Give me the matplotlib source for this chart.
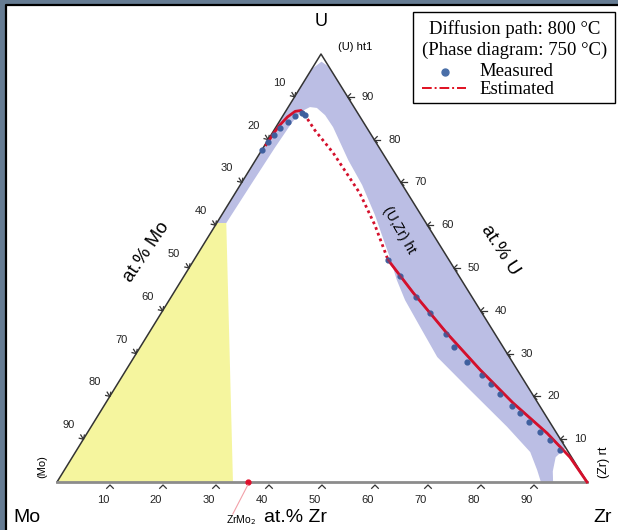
import numpy as np
import matplotlib.pyplot as plt
from matplotlib.patches import Polygon, Rectangle

plt.rcParams['font.family'] = ['Liberation Sans', 'DejaVu Sans']

# corners of the (slightly squashed) ternary triangle, in pixels
MO_XY = (57, 482)
ZR_XY = (587, 482)
U_XY = (321, 54)


def tern(zr, u):
    zr = np.asarray(zr, float) / 100
    u = np.asarray(u, float) / 100
    x = MO_XY[0] + (ZR_XY[0] - MO_XY[0]) * zr + (U_XY[0] - MO_XY[0]) * u
    y = MO_XY[1] + (U_XY[1] - MO_XY[1]) * u
    return x, y


# measured compositions (at.% Zr, at.% U)
meas_zr_low = [36.6, 40.8, 46.2, 50.7, 56.2, 59.2, 63.4, 67.7, 70.5, 73.3, 77.0, 79.3, 82.1, 85.3, 88.1, 91.2]
meas_u_low = [51.9, 48.1, 43.2, 39.5, 34.6, 31.5, 28.0, 25.0, 22.9, 20.6, 17.8, 16.1, 14.0, 11.7, 9.8, 7.5]
meas_zr_up = [0.0, 0.3, 0.6, 1.0, 1.6, 2.4, 3.3, 4.0]
meas_u_up = [77.5, 79.5, 81.0, 82.6, 84.2, 85.5, 86.1, 85.8]

# estimated diffusion path
est_zr_up = [0.2, 0.3, 0.5, 1.0, 1.8, 2.8, 3.8]
est_u_up = [78.8, 81.5, 83.4, 85.3, 86.6, 86.8, 86.0]
est_zr_mid = [3.8, 7.7, 13.8, 23.5, 30.1, 36.6]
est_u_mid = [86.0, 82.2, 76.9, 67.5, 60.0, 51.9]
est_zr_low = [36.6, 45.2, 56.2, 66.8, 76.8, 86.8, 93.9, 100]
est_u_low = [51.9, 44.2, 34.8, 26.2, 18.5, 11.4, 5.8, 0]

# phase fields: (U,Zr) ht band and the yellow (Mo) + ZrMo2 field
band_zr = [0, 0, 1.0, 2.5, 3.5, 92, 91.2, 92.3, 93.6, 91.3, 89.2, 85.8, 78.5, 66.3, 57.2, 50.5, 44.5,
           40.6, 36.8, 33.5, 28.9, 23.0, 17.5, 10.8, 7.9, 5.5, 4.1, 3.0, 2.5, 2.2, 2.0, 1.8]
band_u = [60.5, 96.5, 98.2, 97.3, 96.5, 8, 5.8, 2.5, 0, 0, 2.8, 7.0, 12.9, 22.2, 29.2, 36.2, 42.5,
          47.2, 52.3, 56.5, 62.4, 69.4, 75.2, 82.9, 85.7, 87.4, 87.6, 86.6, 84, 78, 70, 60.5]
yellow_zr = [0, 0, 1.8, 33.2]
yellow_u = [0, 60.5, 60.5, 0]
zrmo2_zr, zrmo2_u = 36.0, 0.0

ticks = [10, 20, 30, 40, 50, 60, 70, 80, 90]

fig = plt.figure(figsize=(6.18, 5.30), dpi=100)
fig.patch.set_facecolor('#667c93')
ax = fig.add_axes([0, 0, 1, 1])
ax.set_xlim(0, 618)
ax.set_ylim(530, 0)
ax.axis('off')

# white panel with dark top/left edge
ax.add_patch(Rectangle((6, 5), 612, 525, fc='white', ec='none'))
ax.plot([6, 6, 618], [530, 5, 5], color='black', lw=1.6)

# phase fields
bx, by = tern(band_zr, band_u)
ax.add_patch(Polygon(np.c_[bx, by], closed=True, fc='#bbbee4', ec='none'))
yx, yy = tern(yellow_zr, yellow_u)
ax.add_patch(Polygon(np.c_[yx, yy], closed=True, fc='#f5f59e', ec='none'))

# triangle edges
ex, ey = tern([0, 0, 100], [0, 100, 0])
ax.plot([ex[0], ex[1], ex[2]], [ey[0], ey[1], ey[2]], color='#333333', lw=1.1)
ax.plot([ex[0], ex[2]], [ey[0], ey[2]], color='#8c8c8c', lw=2)


def arrow_tick(x, y, dx, dy, tail=6.0, head=3.2, off=0.0):
    # small open arrowhead pointing along (dx, dy) with its tip at (x, y)
    d = np.array([dx, dy], float)
    d /= np.hypot(*d)
    n = np.array([-d[1], d[0]])
    tip = np.array([x, y]) - d * off
    back = tip - d * head
    ax.plot([back[0] + n[0] * head, tip[0], back[0] - n[0] * head],
            [back[1] + n[1] * head, tip[1], back[1] - n[1] * head], color='#333333', lw=0.9)
    if tail > 0:
        t0 = tip - d * tail
        ax.plot([t0[0], tip[0]], [t0[1], tip[1]], color='#333333', lw=0.9)


tk = np.array(ticks)
left_dir = (ZR_XY[0] - U_XY[0], ZR_XY[1] - U_XY[1])
# bottom: at.% Zr
tx, ty = tern(tk, 0 * tk)
for v, x, y in zip(ticks, tx, ty):
    arrow_tick(x, y + 3, 0, -1, tail=0, head=3.3)
    ax.text(x - 7, y + 18, str(v), fontsize=8, color='#222222', ha='center', va='center')
# left: at.% Mo (U = 100 - Mo, Zr = 0)
lx, ly = tern(0 * tk, 100 - tk)
for v, x, y in zip(ticks, lx, ly):
    arrow_tick(x, y, *left_dir, tail=5, head=3)
    ax.text(x - 15, y - 14, str(v), fontsize=8, color='#222222', ha='center', va='center')
# right: at.% U (Mo = 0)
rx, ry = tern(100 - tk, tk)
for v, x, y in zip(ticks, rx, ry):
    arrow_tick(x, y, -1, 0, tail=6, head=3)
    ax.text(x + 20, y, str(v), fontsize=8, color='#222222', ha='center', va='center')

# diffusion path
ux, uy = tern(est_zr_up, est_u_up)
ax.plot(ux, uy, color='#d4102c', lw=2)
mx, my = tern(est_zr_mid, est_u_mid)
ax.plot(mx, my, color='#d4102c', lw=2, ls=(0, (1, 1.2)))
lx2, ly2 = tern(est_zr_low, est_u_low)
ax.plot(lx2, ly2, color='#d4102c', lw=2)
px, py = tern(meas_zr_low + meas_zr_up, meas_u_low + meas_u_up)
ax.scatter(px, py, s=12, color='#3e5f9e', zorder=3)
ax.plot(lx2, ly2, color='#d4102c', lw=1.6, alpha=0.6, zorder=4)

# ZrMo2 point
zx, zy = tern(zrmo2_zr, zrmo2_u)
ax.plot(zx, zy, 'o', color='#e0102c', ms=3.5)
ax.plot([zx, zx - 15], [zy + 3, zy + 32], color='#f2a0a8', lw=0.8)
ax.text(zx - 7, zy + 38, 'ZrMo$_2$', fontsize=7.5, ha='center', va='center')

# labels
ax.text(U_XY[0], 22, 'U', fontsize=13, ha='center', va='center')
ax.text(338, 47, '(U) ht1', fontsize=8, ha='left', va='center')
ax.text(13, 517, 'Mo', fontsize=14, ha='left', va='center')
ax.text(612, 517, 'Zr', fontsize=14, ha='right', va='center')
ax.text(296, 517, 'at.% Zr', fontsize=14, ha='center', va='center')
ax.text(146, 252, 'at.% Mo', fontsize=13.5, ha='center', va='center', rotation=56)
ax.text(500, 250, 'at.% U', fontsize=13.5, ha='center', va='center', rotation=-57)
ax.text(399, 230, '(U,Zr) ht', fontsize=10, ha='center', va='center', rotation=-60)
ax.text(42, 467, '(Mo)', fontsize=8, ha='center', va='center', rotation=90)
ax.text(604, 462, '(Zr) rt', fontsize=9, ha='center', va='center', rotation=90)

# legend box
ax.add_patch(Rectangle((413, 12), 202, 91, fc='white', ec='black', lw=1))
serif = 'Liberation Serif'
ax.text(515, 29, 'Diffusion path: 800 \u00b0C', family=serif, fontsize=13.5, ha='center', va='center')
ax.text(515, 50, '(Phase diagram: 750 \u00b0C)', family=serif, fontsize=13.5, ha='center', va='center')
ax.plot([445], [72], 'o', color='#4a6fa8', ms=5)
ax.text(479, 71, 'Measured', family=serif, fontsize=13.5, ha='left', va='center')
ax.plot([422, 466], [88, 88], color='#e01020', lw=1.4, ls=(0, (5, 1.5, 1, 1.5)))
ax.text(479, 89, 'Estimated', family=serif, fontsize=13.5, ha='left', va='center')

fig.savefig('out.png', dpi=100, facecolor=fig.get_facecolor())
